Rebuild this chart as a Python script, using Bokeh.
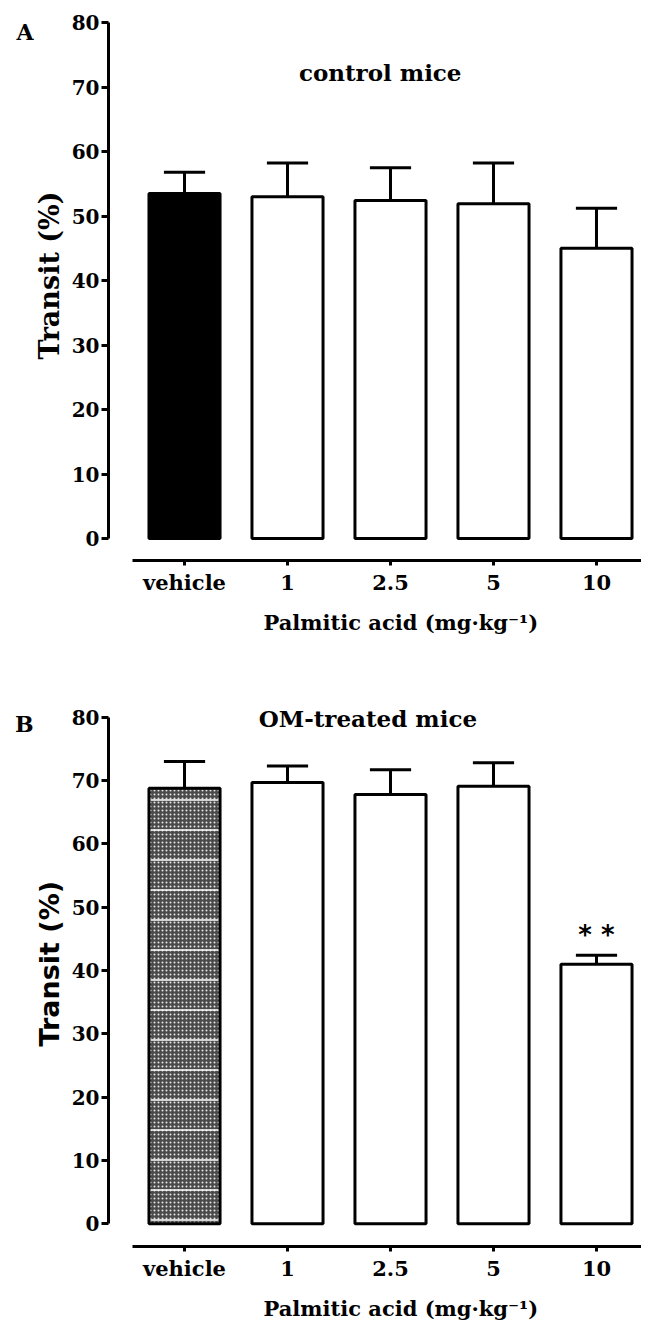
from bokeh.plotting import figure
from bokeh.layouts import column
from bokeh.models import Label, FixedTicker, ColumnDataSource, Title, LinearAxis
from bokeh.embed import file_html
from bokeh.resources import INLINE

# ---------------- data ----------------
doses = ["vehicle", "1", "2.5", "5", "10"]
control_mean = [53.5, 53.0, 52.4, 51.9, 45.0]
control_sem = [3.3, 5.2, 5.1, 6.3, 6.2]
om_mean = [68.8, 69.7, 67.8, 69.1, 41.0]
om_sem = [4.2, 2.6, 3.9, 3.7, 1.4]
y_ticks = [0, 10, 20, 30, 40, 50, 60, 70, 80]
x_label = "Palmitic acid (mg\u00b7kg\u207b\u00b9)"
y_label = "Transit (%)"

SERIF = "DejaVu Serif"
SANS = "DejaVu Sans"
xs = list(range(len(doses)))
BAR_W = 0.69
CAP_W = 0.40


def make_panel(mean, sem, height, top_border, bottom_border, y_end, y_start, hatched,
               letter, letter_y, ylab_font, ylab_size, ylab_offset):
    p = figure(width=641, height=height, output_backend="svg", toolbar_location=None,
               x_range=(-0.738, 4.437), y_range=(y_start, y_end),
               min_border_left=108, min_border_right=0,
               min_border_top=top_border, min_border_bottom=bottom_border)
    p.outline_line_color = None
    p.grid.visible = False
    p.background_fill_color = "white"
    p.border_fill_color = "white"

    src = ColumnDataSource(dict(x=xs, top=mean,
                                err=[m + s for m, s in zip(mean, sem)],
                                c0=[x - CAP_W / 2 for x in xs],
                                c1=[x + CAP_W / 2 for x in xs]))
    # error bars (upper only)
    p.segment(x0="x", y0="top", x1="x", y1="err", source=src, line_color="black", line_width=3)
    p.segment(x0="c0", y0="err", x1="c1", y1="err", source=src, line_color="black", line_width=3)

    fills = ["black"] + ["white"] * (len(xs) - 1)
    src2 = ColumnDataSource(dict(x=xs, top=mean, fill=fills))
    if hatched:
        p.vbar(x=xs[:1], top=mean[:1], bottom=0, width=BAR_W, fill_color="#4a4a4a",
               line_color=None, hatch_pattern="dot", hatch_color="#e6e6e6",
               hatch_scale=4, hatch_weight=2)
        p.vbar(x=xs[:1], top=mean[:1], bottom=0, width=BAR_W, fill_alpha=0,
               line_color=None, hatch_pattern="horizontal_line", hatch_color="white",
               hatch_scale=30, hatch_weight=1.5)
        p.vbar(x=xs[:1], top=mean[:1], bottom=0, width=BAR_W, fill_alpha=0,
               line_color="black", line_width=3)
        p.vbar(x=xs[1:], top=mean[1:], bottom=0, width=BAR_W, fill_color="white",
               line_color="black", line_width=3)
    else:
        p.vbar(x="x", top="top", bottom=0, width=BAR_W, fill_color="fill",
               line_color="black", line_width=3, source=src2)

    # y axis
    ya = p.yaxis[0]
    ya.ticker = FixedTicker(ticks=y_ticks)
    ya.bounds = (0, 80)
    ya.axis_line_width = 3
    ya.major_tick_line_width = 3
    ya.major_tick_out = 7
    ya.major_tick_in = 0
    ya.minor_tick_line_color = None
    ya.major_label_text_font = SERIF
    ya.major_label_text_font_style = "bold"
    ya.major_label_text_font_size = "20px"
    ya.major_label_text_color = "black"
    ya.major_label_standoff = 2

    # x axis
    xa = p.xaxis[0]
    xa.ticker = FixedTicker(ticks=xs)
    xa.major_label_overrides = {i: d for i, d in enumerate(doses)}
    xa.bounds = (-0.505, 4.437)
    xa.axis_line_width = 3
    xa.major_tick_line_width = 3
    xa.major_tick_out = 5
    xa.major_tick_in = 0
    xa.minor_tick_line_color = None
    xa.major_label_text_font = SERIF
    xa.major_label_text_font_style = "bold"
    xa.major_label_text_font_size = "21px"
    xa.major_label_text_color = "black"
    xa.major_label_standoff = 4

    # y axis title (left side); align left = starts at frame bottom, offset moves it up
    p.add_layout(Title(text=y_label, align="left", offset=ylab_offset, standoff=7,
                       text_font=ylab_font, text_font_size=ylab_size,
                       text_font_style="bold", text_color="black"), "left")
    # panel letter as an outer left axis with one labelled tick
    la = LinearAxis(ticker=FixedTicker(ticks=[letter_y]),
                    major_label_overrides={letter_y: letter},
                    axis_line_color=None, major_tick_line_color=None,
                    minor_tick_line_color=None, major_tick_out=0, major_tick_in=0,
                    major_label_standoff=-5, major_label_text_font=SERIF,
                    major_label_text_font_style="bold", major_label_text_font_size="22px",
                    major_label_text_color="black")
    p.add_layout(la, "left")
    # x axis title below, starting from the frame's left edge + offset
    p.add_layout(Title(text=x_label, align="left", offset=155, standoff=20,
                       text_font=SERIF, text_font_size="21px", text_font_style="bold",
                       text_color="black"), "below")
    return p


# ---------- Panel A ----------
pA = make_panel(control_mean, control_sem, 664, 22, 104, 80, -3.41, False,
                "A", 78.5, SERIF, "27px", 201)
pA.add_layout(Label(x=1.90, y=72.3, text="control mice", text_font=SERIF, text_font_style="bold",
                    text_font_size="23px", text_align="center", text_baseline="middle",
                    text_color="black"))

# ---------- Panel B ----------
pB = make_panel(om_mean, om_sem, 666, 21, 80, 85.02, -3.61, True,
                "B", 79, SANS, "27px", 200)
pB.add_layout(Label(x=1.78, y=79.8, text="OM-treated mice", text_font=SERIF, text_font_style="bold",
                    text_font_size="23px", text_align="center", text_baseline="middle",
                    text_color="black"))
pB.add_layout(Label(x=4, y=om_mean[4] + om_sem[4] + 0.8, text="* *", text_font=SANS,
                    text_font_style="bold", text_font_size="26px", text_align="center",
                    text_baseline="bottom", text_color="black"))

layout = column(pA, pB, spacing=0)
open("out.html", "w").write(file_html(layout, INLINE))
